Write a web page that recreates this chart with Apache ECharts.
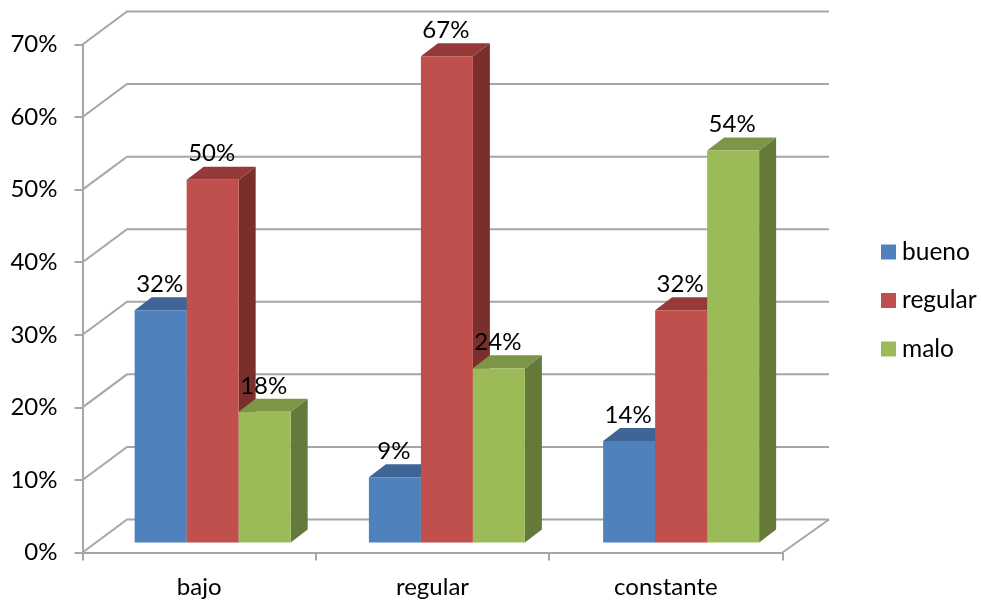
<!DOCTYPE html>
<html><head><meta charset="utf-8">
<style>html,body{margin:0;padding:0;background:#fff}#c{width:981px;height:603px}</style>
<script src="https://cdn.jsdelivr.net/npm/echarts@6/dist/echarts.min.js"></script>
</head><body><div id="c"></div>
<script>
const categories = ['bajo', 'regular', 'constante'];
const bueno = [32, 9, 14];
const regular = [50, 67, 32];
const malo = [18, 24, 54];
const yTicks = [0, 10, 20, 30, 40, 50, 60, 70];

const FONT = 'Lato';
const WALL_DX = 44.5, WALL_DY = -33;      // back wall offset
const WALL_EXTRA_R = 2;
const BAR_DX = 13.5, BAR_DY = -10;        // bar front plane offset
const BAND_FIX = 0.9;                     // per-category perspective correction
const DEPTH_DX = 17, DEPTH_DY = -13;      // bar depth
const BAR_W = 52;
const GRID = '#a6a6a6';
const LW = 2;

function wallRender(params, api) {
  const cs = params.coordSys;
  const y = api.coord([0, api.value(1)])[1];
  const x0 = cs.x, x1 = cs.x + cs.width;
  const style = { stroke: GRID, lineWidth: LW, fill: null };
  const children = [{
    type: 'polyline', silent: true,
    shape: { points: [[x0, y], [x0 + WALL_DX, y + WALL_DY], [x1 + WALL_DX + WALL_EXTRA_R, y + WALL_DY]] },
    style
  }];
  if (api.value(1) === 0) {
    children.push({
      type: 'line', silent: true,
      shape: { x1: x1, y1: y, x2: x1 + WALL_DX + WALL_EXTRA_R, y2: y + WALL_DY },
      style
    });
  }
  return { type: 'group', children };
}

function barRender(slot, colors) {
  return function (params, api) {
    const v = api.value(1);
    const idx = api.value(0);
    const top = api.coord([idx, v]);
    const base = api.coord([idx, 0]);
    const l = top[0] + BAR_DX + idx * BAND_FIX + (slot - 1.5) * BAR_W;
    const r = l + BAR_W;
    const t = top[1] + BAR_DY, b = base[1] + BAR_DY;
    const poly = (points, fill) => ({ type: 'polygon', shape: { points }, style: { fill, stroke: null } });
    return {
      type: 'group',
      children: [
        poly([[r, t], [r + DEPTH_DX, t + DEPTH_DY], [r + DEPTH_DX, b + DEPTH_DY], [r, b]], colors.side),
        poly([[l, t], [l + DEPTH_DX, t + DEPTH_DY], [r + DEPTH_DX, t + DEPTH_DY], [r, t]], colors.top),
        poly([[l, t], [r, t], [r, b], [l, b]], colors.front),
        {
          type: 'text', z2: 100,
          style: {
            x: (l + r) / 2 - 1, y: t - 26, text: v + '%',
            font: '24px ' + FONT, fill: '#000', align: 'center', verticalAlign: 'middle'
          }
        }
      ]
    };
  };
}

function barSeries(name, values, slot, colors) {
  return {
    name, type: 'custom', coordinateSystem: 'cartesian2d',
    renderItem: barRender(slot, colors),
    encode: { x: 0, y: 1 },
    itemStyle: { color: colors.front },
    data: values.map((v, i) => [i, v]),
    animation: false, z: 3 + slot
  };
}

const chart = echarts.init(document.getElementById('c'), null, { renderer: 'canvas' });
chart.setOption({
  animation: false,
  backgroundColor: '#fff',
  grid: { left: 82.5, top: 44.5, width: 700, height: 508, containLabel: false },
  legend: {
    orient: 'vertical', left: 876, top: 234.5, itemWidth: 15, itemHeight: 15, itemGap: 23.5,
    icon: 'rect', selectedMode: false,
    textStyle: { fontFamily: FONT, fontSize: 24.5, color: '#000', padding: [0, 0, 0, 1] },
    data: ['bueno', 'regular', 'malo']
  },
  tooltip: { show: false },
  xAxis: {
    type: 'category', data: categories, boundaryGap: true,
    axisLine: { lineStyle: { color: GRID, width: LW } },
    axisTick: { show: true, length: 8, alignWithLabel: false, lineStyle: { color: GRID, width: LW } },
    axisLabel: { color: '#000', fontFamily: FONT, fontSize: 24, margin: 23 },
    splitLine: { show: false }
  },
  yAxis: {
    type: 'value', min: 0, max: 70, interval: 10,
    axisLine: { show: true, lineStyle: { color: GRID, width: LW } },
    axisTick: { show: true, length: 8, lineStyle: { color: GRID, width: LW } },
    axisLabel: { color: '#000', fontFamily: FONT, fontSize: 24, margin: 25, padding: [2, 0, 0, 0], formatter: '{value}%' },
    splitLine: { show: false }
  },
  series: [
    {
      name: 'walls', type: 'custom', coordinateSystem: 'cartesian2d',
      renderItem: wallRender, encode: { x: 0, y: 1 }, silent: true, z: 1,
      data: yTicks.map(v => [0, v]), animation: false
    },
    barSeries('bueno', bueno, 0, { front: '#4f81bd', top: '#3e6595', side: '#2f4d71' }),
    barSeries('regular', regular, 1, { front: '#c0504d', top: '#953a38', side: '#7b2f2d' }),
    barSeries('malo', malo, 2, { front: '#9bbb59', top: '#7c9647', side: '#657a3a' })
  ]
});
</script></body></html>
